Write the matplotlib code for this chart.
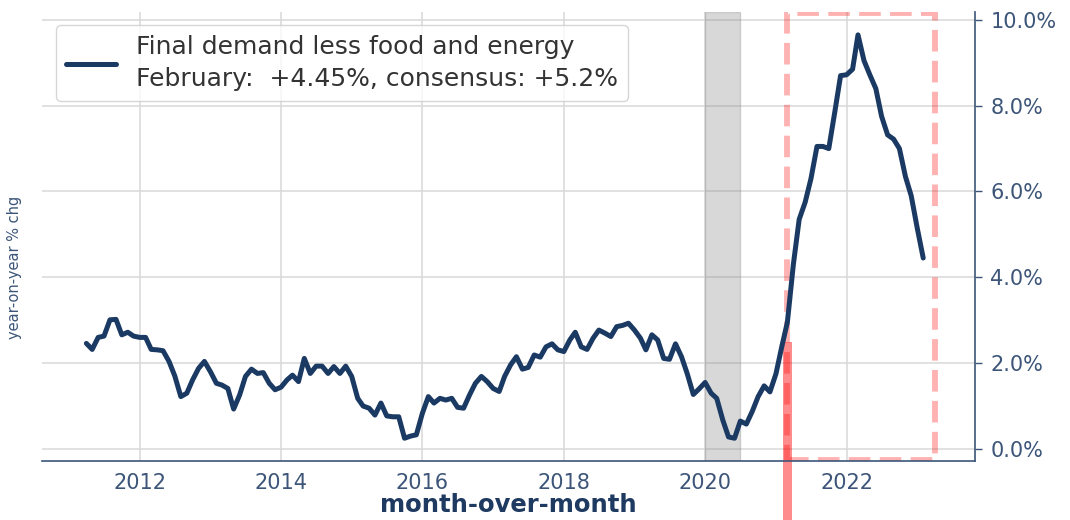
import matplotlib
matplotlib.use("Agg")
import matplotlib.pyplot as plt
import matplotlib.dates as mdates
from matplotlib.patches import Rectangle
from matplotlib.ticker import PercentFormatter
import pandas as pd

# core PPI, year-on-year % change, monthly from Apr 2011 to Feb 2023
start_month = "2011-04-01"
yoy_values = [
    2.46, 2.32, 2.60, 2.63, 3.01, 3.02, 2.66, 2.72, 2.63, 2.60,
    2.60, 2.32, 2.31, 2.29, 2.04, 1.70, 1.22, 1.30, 1.61, 1.88,
    2.04, 1.80, 1.53, 1.49, 1.41, 0.93, 1.26, 1.69, 1.86, 1.76,
    1.78, 1.53, 1.38, 1.44, 1.61, 1.72, 1.57, 2.11, 1.76, 1.93,
    1.93, 1.76, 1.92, 1.76, 1.93, 1.69, 1.18, 1.00, 0.95, 0.79,
    1.07, 0.77, 0.75, 0.75, 0.25, 0.30, 0.33, 0.83, 1.22, 1.07,
    1.18, 1.14, 1.18, 0.97, 0.95, 1.26, 1.53, 1.69, 1.57, 1.41,
    1.34, 1.69, 1.96, 2.15, 1.86, 1.90, 2.19, 2.14, 2.38, 2.45,
    2.31, 2.27, 2.54, 2.72, 2.38, 2.32, 2.58, 2.77, 2.70, 2.62,
    2.85, 2.88, 2.93, 2.77, 2.58, 2.31, 2.66, 2.54, 2.11, 2.09,
    2.45, 2.15, 1.75, 1.27, 1.40, 1.55, 1.30, 1.18, 0.68, 0.28,
    0.25, 0.65, 0.58, 0.88, 1.22, 1.47, 1.33, 1.75, 2.40, 2.95,
    4.30, 5.35, 5.75, 6.30, 7.05, 7.05, 7.00, 7.85, 8.70, 8.72,
    8.85, 9.65, 9.05, 8.72, 8.40, 7.75, 7.32, 7.22, 7.00, 6.35,
    5.90, 5.15, 4.45,
]
series_label = "Final demand less food and energy\nFebruary:  +4.45%, consensus: +5.2%"

# shaded recession window and highlighted window
recession = ("2020-01-01", "2020-07-01")
highlight = ("2021-03-01", "2023-04-01")
highlight_y = (-0.26, 10.17)

# the single month-over-month bar
mom_bar_date = "2021-03-01"
mom_bar_top = 2.5
mom_bar_bottom = -2.5

NAVY = "#1b3a63"
SLATE = "#3c5578"

dates = pd.date_range(start_month, periods=len(yoy_values), freq="MS")

fig = plt.figure(figsize=(10.7, 5.2), dpi=100)
ax = fig.add_axes([0.0393, 0.1135, 0.872, 0.864])

ax.axvspan(pd.Timestamp(recession[0]), pd.Timestamp(recession[1]),
           color="grey", alpha=0.3, zorder=1)

ax.plot(dates, yoy_values, color=NAVY, lw=3.6, label=series_label,
        zorder=3, solid_capstyle="round", solid_joinstyle="round")

# highlight box
x0 = mdates.date2num(pd.Timestamp(highlight[0]))
x1 = mdates.date2num(pd.Timestamp(highlight[1]))
ax.add_patch(Rectangle((x0, highlight_y[0]), x1 - x0, highlight_y[1] - highlight_y[0],
                       fill=False, edgecolor="red", alpha=0.3, lw=4.2,
                       linestyle="--", zorder=2))

# mom bar, runs below the axis
ax.bar(pd.Timestamp(mom_bar_date), mom_bar_top - mom_bar_bottom,
       bottom=mom_bar_bottom, width=45, color="red", alpha=0.45,
       clip_on=False, zorder=2)

ax.set_xlim(pd.Timestamp("2010-08-15"), pd.Timestamp("2023-10-27"))
ax.set_ylim(-0.28, 10.19)

ax.xaxis.set_major_locator(mdates.YearLocator(2))
ax.xaxis.set_major_formatter(mdates.DateFormatter("%Y"))
ax.yaxis.tick_right()
ax.yaxis.set_major_formatter(PercentFormatter(xmax=100, decimals=1))
ax.set_yticks([0, 2, 4, 6, 8, 10])

ax.grid(True, color="#d9d9d9", lw=1.1, zorder=0)
ax.set_axisbelow(True)

for side in ["left", "top"]:
    ax.spines[side].set_visible(False)
for side in ["bottom", "right"]:
    ax.spines[side].set_color(SLATE)
    ax.spines[side].set_linewidth(1.2)

ax.tick_params(axis="x", length=0, pad=9, labelsize=15, labelcolor=SLATE)
ax.tick_params(axis="y", length=5, width=1, color=SLATE, pad=6,
               labelsize=15, labelcolor=SLATE)

ax.set_ylabel("year-on-year % chg", fontsize=10.5, color=SLATE)
ax.yaxis.set_label_coords(-0.0214, 0.432)
ax.set_xlabel("month-over-month", fontsize=17.5, fontweight="bold",
              color="#1f3a60", labelpad=0)

leg = ax.legend(loc="upper left", fontsize=18, labelcolor="#333333",
                edgecolor="#cccccc", borderaxespad=0.55)
for t in leg.get_texts():
    t.set_linespacing(1.4)

fig.savefig("out.png", dpi=100)
